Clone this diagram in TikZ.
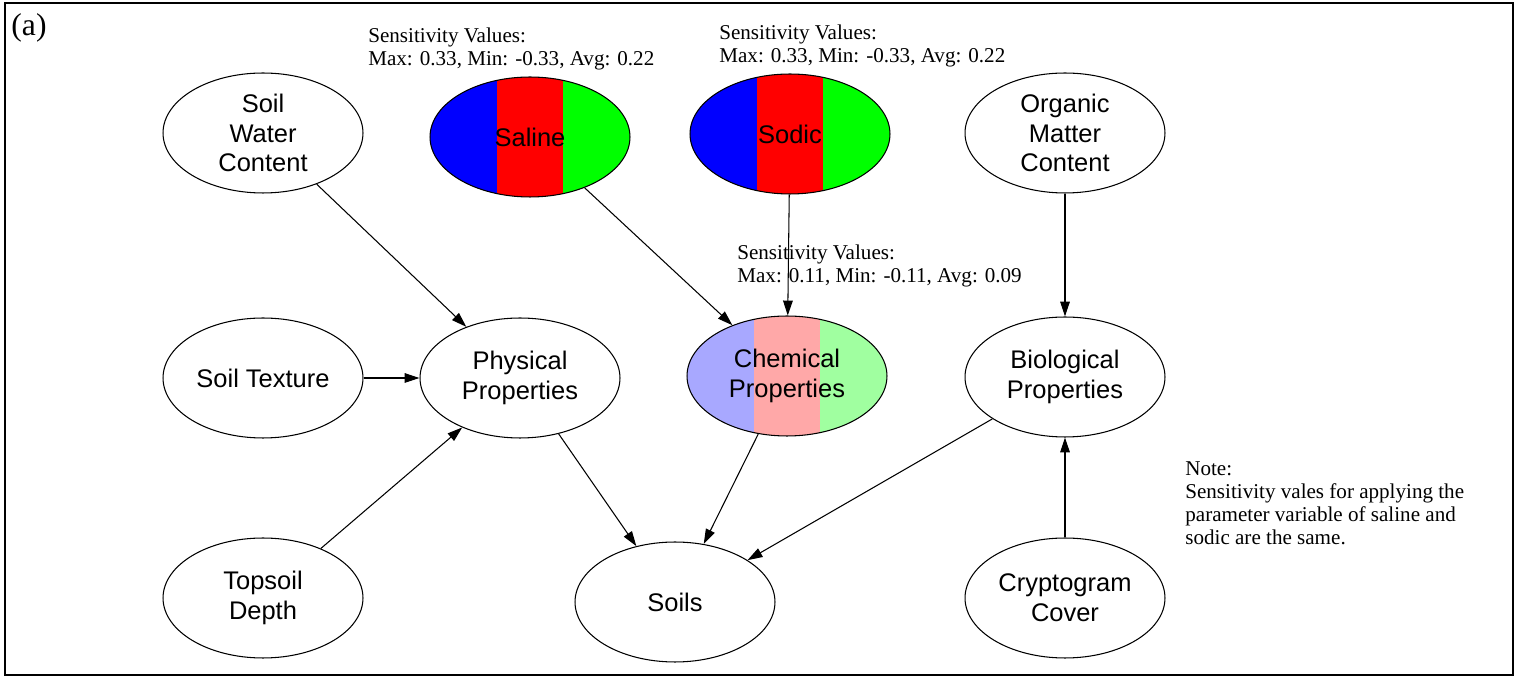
\documentclass[tikz,border=0pt]{standalone}
\usepackage{fontspec}
\setmainfont{Liberation Serif}
\setsansfont{Liberation Sans}
\usetikzlibrary{arrows.meta,calc,shapes.geometric}
\definecolor{sblue}{RGB}{0,0,255}
\definecolor{sred}{RGB}{255,0,0}
\definecolor{sgreen}{RGB}{0,255,0}
\definecolor{lblue}{RGB}{168,168,255}
\definecolor{lred}{RGB}{255,168,168}
\definecolor{lgreen}{RGB}{160,255,160}
\begin{document}
\begin{tikzpicture}[x=0.02cm, y=-0.02cm,
  v/.style={ellipse, draw, line width=0.6pt, minimum width=4cm, minimum height=2.4cm,
    inner sep=0pt, align=center, font=\sffamily\fontsize{14.5}{17}\selectfont},
  sv/.style n args={3}{v, path picture={
    \fill[#3] (path picture bounding box.south west) rectangle (path picture bounding box.north east);
    \fill[#2] (path picture bounding box.south west) rectangle
      ($(path picture bounding box.north west)!2/3!(path picture bounding box.north east)$);
    \fill[#1] (path picture bounding box.south west) rectangle
      ($(path picture bounding box.north west)!1/3!(path picture bounding box.north east)$);}},
  sens/.style={anchor=west, align=left, inner sep=0pt, font=\fontsize{12}{13}\selectfont},
  e/.style={line width=0.6pt, -{Triangle[length=8.5pt,width=5.5pt]}}
]
\useasboundingbox (0,0) rectangle (1519,678);
\draw[line width=1.1pt] (5,3) rectangle (1513,675);
\node[font=\fontsize{18}{20}\selectfont] (lab) at (29,28) {(a)};

% variables
\node[v] (swc) at (263,133) {Soil\\Water\\Content};
\node[sv={sblue}{sred}{sgreen}] (saline) at (530,137) {Saline};
\node[sv={sblue}{sred}{sgreen}] (sodic) at (790,134) {Sodic};
\node[v] (omc) at (1065,133) {Organic\\Matter\\Content};
\node[v] (tex) at (263,378) {Soil Texture};
\node[v] (phys) at (520,378) {Physical\\Properties};
\node[sv={lblue}{lred}{lgreen}] (chem) at (787,376) {Chemical\\Properties};
\node[v] (bio) at (1065,377) {Biological\\Properties};
\node[v] (top) at (263,598) {Topsoil\\Depth};
\node[v] (soils) at (675,602) {Soils};
\node[v] (cry) at (1065,598) {Cryptogram\\Cover};

% sensitivity text
\node[sens] (s1) at (368,49) {Sensitivity Values:\\Max: 0.33, Min: -0.33, Avg: 0.22};
\node[sens] (s2) at (719,46) {Sensitivity Values:\\Max: 0.33, Min: -0.33, Avg: 0.22};
\node[sens] (s3) at (737,266) {Sensitivity Values:\\Max: 0.11, Min: -0.11, Avg: 0.09};
\node[sens] (note) at (1185,503) {Note:\\Sensitivity vales for applying the\\parameter variable of saline and\\sodic are the same.};

% links
\draw[e] (swc) -- (phys);
\draw[e] (tex) -- (phys);
\draw[e] (top) -- (phys);
\draw[e] (saline) -- (chem);
\draw[e] (sodic) -- (chem);
\draw[e] (omc) -- (bio);
\draw[e] (cry) -- (bio);
\draw[e] (phys) -- (soils);
\draw[e] (chem) -- (soils);
\draw[e] (bio) -- (soils);
\end{tikzpicture}
\end{document}
